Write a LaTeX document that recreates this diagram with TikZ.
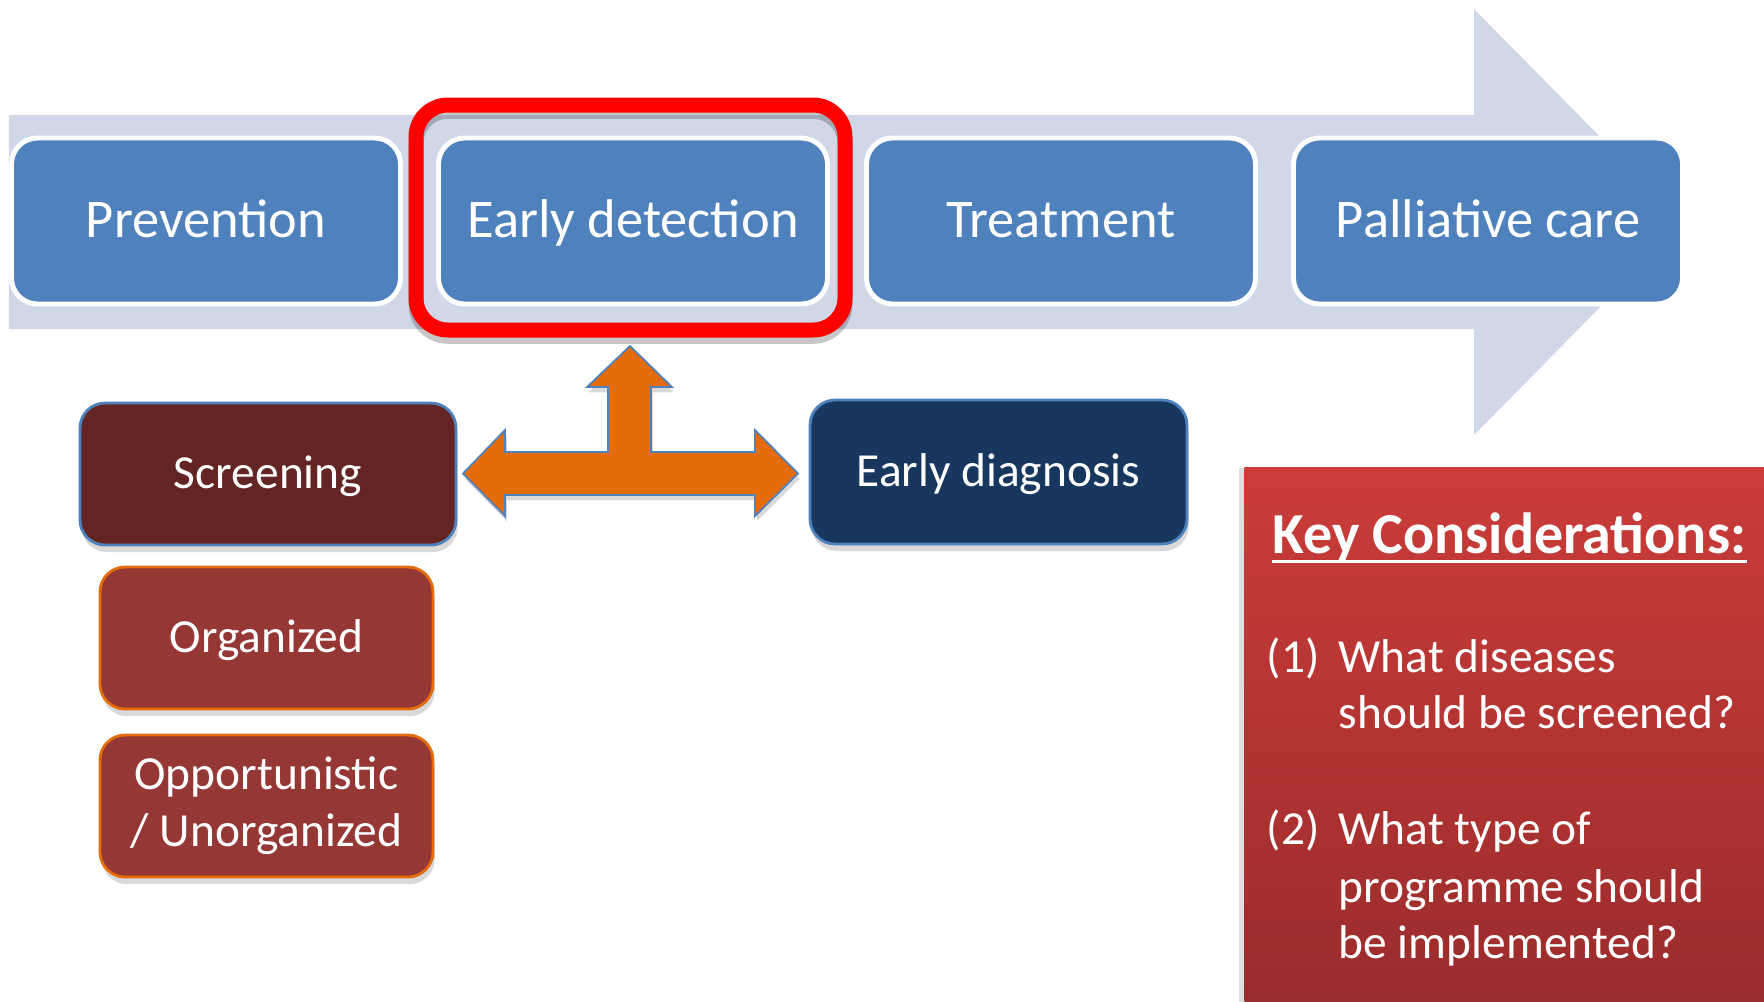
\documentclass[tikz,border=0pt]{standalone}
\usepackage{fontspec}
\setmainfont{Carlito}
\usetikzlibrary{shadows}

\definecolor{bandgrey}{HTML}{D0D8E8}
\definecolor{stageblue}{HTML}{4F81BD}
\definecolor{scrred}{HTML}{632523}
\definecolor{subred}{HTML}{953735}
\definecolor{diagblue}{HTML}{17375E}
\definecolor{tarrow}{HTML}{E46C0A}
\definecolor{keytop}{HTML}{CB3C39}
\definecolor{keybot}{HTML}{9A2C2C}

\begin{document}
\begin{tikzpicture}[
	stage/.style={draw=white, line width=1.4pt, fill=stageblue, rounded corners=0.26cm, minimum width=3.89cm, minimum height=1.66cm, inner sep=0pt, text height=13.6pt, text depth=4pt, text=white, font=\fontsize{15.5}{18}\selectfont},
	kind/.style={rounded corners=0.25cm, line width=0.8pt, inner sep=0pt, minimum height=1.42cm, text height=11.9pt, text depth=3.5pt, text=white, align=center, font=\fontsize{13.5}{16.3}\selectfont, drop shadow={shadow xshift=0.5pt, shadow yshift=-2pt, opacity=0.3}},
	keytext/.style={anchor=base west, inner sep=0pt, text=white, font=\fontsize{13.5}{16}\selectfont}
	]
		\useasboundingbox (0,0) rectangle (17.64,-10.01);
		
		\fill[bandgrey] (0.09,-1.15) -- (14.74,-1.15) -- (14.74,-0.09) -- (16.84,-2.22) -- (14.74,-4.35) -- (14.74,-3.29) -- (0.09,-3.29) -- cycle;
		
		\node[stage] (prev) at (2.06,-2.21) {Prevention};
		\node[stage] (edet) at (6.33,-2.21) {Early detection};
		\node[stage] (treat) at (10.61,-2.21) {Treatment};
		\node[stage] (pall) at (14.88,-2.21) {Palliative care};
		
		\node[draw=red, line width=0.15cm, rounded corners=0.32cm, minimum width=4.29cm, minimum height=2.25cm, drop shadow={fill=none, draw=black, shadow xshift=0pt, shadow yshift=-1.8pt, opacity=0.22}] (frame) at (6.305,-2.175) {};
		
		\node[kind, fill=scrred, draw=stageblue, minimum width=3.76cm] (scr) at (2.68,-4.74) {Screening};
		\node[kind, fill=subred, draw=tarrow, minimum width=3.33cm] (org) at (2.665,-6.38) {Organized};
		\node[kind, fill=subred, draw=tarrow, minimum width=3.33cm, text height=, text depth=] (opp) at (2.665,-8.06) {Opportunistic\\/ Unorganized};
		\node[kind, fill=diagblue, draw=stageblue, minimum width=3.77cm, minimum height=1.44cm] (diag) at (9.985,-4.72) {Early diagnosis};
		
		\coordinate (uptip) at (6.30,-3.46);
		\coordinate (ltip) at (4.63,-4.735);
		\coordinate (rtip) at (7.98,-4.735);
		\draw[fill=tarrow, draw=stageblue, line width=0.5pt, drop shadow={shadow xshift=0.5pt, shadow yshift=-1.5pt, opacity=0.3}]
			(uptip) -- ++(0.42,-0.41) -- ++(-0.21,0) -- ++(0,-0.65) -- ++(1.04,0) -- ++(0,0.22)
			-- (rtip) -- ++(-0.43,-0.425) -- ++(0,0.21) -- ++(-2.50,0) -- ++(0,-0.21)
			-- (ltip) -- ++(0.42,0.435) -- ++(0,-0.22) -- ++(1.03,0) -- ++(0,0.65) -- ++(-0.21,0) -- cycle;
		
		\node[top color=keytop, bottom color=keybot, minimum width=5.2cm, minimum height=5.34cm, inner sep=0pt, anchor=north west, drop shadow={shadow xshift=-1.5pt, shadow yshift=0pt, opacity=0.25}] (keys) at (12.44,-4.67) {};
		\node[anchor=base west, inner sep=0pt, text=white, font=\bfseries\fontsize{16.5}{20}\selectfont] (keyhead) at (12.72,-5.53) {Key Considerations:};
		\draw[white, line width=0.9pt] ([yshift=-0.085cm]keyhead.base west) -- ([yshift=-0.085cm]keyhead.base east);
		
		\node[keytext] (n1) at (12.66,-6.72) {(1)};
		\node[keytext] (n2) at (12.66,-8.44) {(2)};
		\foreach \y/\txt [count=\i] in {6.72/What diseases, 7.28/should be screened?, 8.44/What type of, 9.02/programme should, 9.58/be implemented?}
		\node[keytext] (q\i) at (13.38,-\y) {\txt};
		\end{tikzpicture}
\end{document}
